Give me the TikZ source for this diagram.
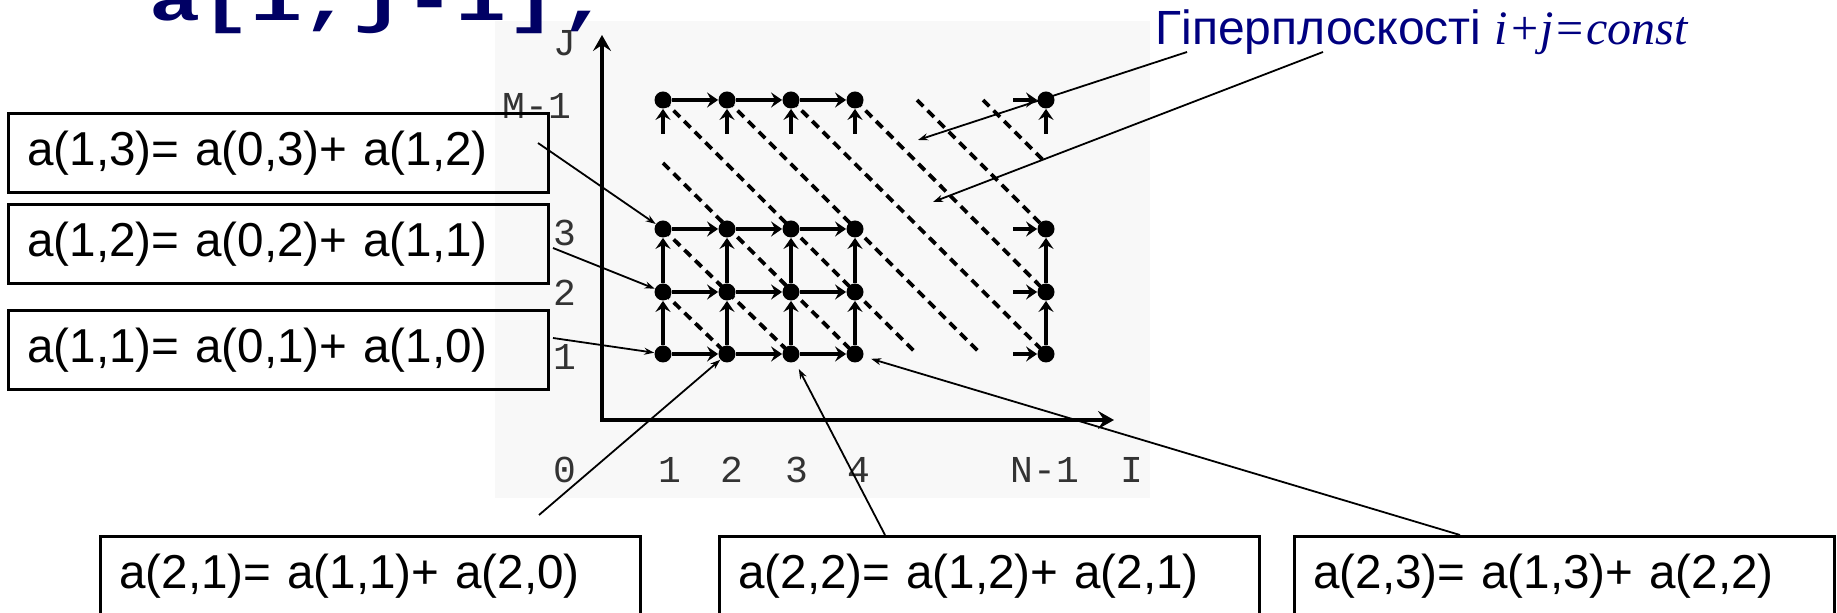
\documentclass[tikz,border=0pt]{standalone}
\usepackage{fontspec}
\setmainfont{Liberation Sans}
\newfontfamily\monofont{Liberation Mono}
\newfontfamily\serifit{Liberation Serif}
\usetikzlibrary{arrows.meta}
\definecolor{navyT}{RGB}{0,0,100}
\definecolor{navyL}{RGB}{0,0,128}
\definecolor{scanbg}{RGB}{248,248,248}
\begin{document}
\begin{tikzpicture}[x=0.5pt,y=-0.5pt,
  eqbox/.style={draw=black, line width=1.3pt, anchor=north west, minimum height=39.5pt,
    text width=251pt, inner xsep=9.5pt, inner ysep=0pt, align=left,
    font=\fontsize{23.8}{27}\selectfont},
  dot/.style={circle, fill=black, minimum size=8.5pt, inner sep=0pt},
  gline/.style={line width=2pt, -{Stealth[length=5.5pt,width=7.5pt,inset=2pt]}},
  hyper/.style={line width=1.9pt, dash pattern=on 4.5pt off 3pt},
  ptr/.style={line width=0.9pt, -{Stealth[length=5pt,width=3.5pt]}},
  axis/.style={line width=2.2pt, {Stealth[length=8pt,width=9pt,inset=3pt]}-{Stealth[length=8pt,width=9pt,inset=3pt]}},
  lbl/.style={font=\monofont\fontsize{19}{22}\selectfont, text=black!80, inner sep=0pt},
]
\useasboundingbox (0,0) rectangle (1837,613);
\clip (0,0) rectangle (1837,613);

% scanned figure background
\fill[scanbg] (495,21) rectangle (1150,498);

% title (cut by the top edge)
\node[font=\monofont\bfseries\fontsize{42.5}{50}\selectfont, text=navyT, anchor=base west, inner sep=0pt] (title) at (149,21) {\scalebox{1}[0.75]{a[i,j-1];}};

% hyperplane label
\node[anchor=base west, inner sep=0pt, text=navyL, font=\fontsize{24}{28}\selectfont] (hyp) at (1155,45) {Гіперплоскості {\serifit\itshape i+j=const}};

% grid coordinates
\foreach \i/\x in {1/663,2/727,3/791,4/855,N/1046} {
  \foreach \j/\y in {1/354,2/292,3/229,M/100} {
    \coordinate (p\i\j) at (\x,\y);
  }
}

% dashed hyperplanes
\coordinate (d3s) at (663,163);
\coordinate (d4e) at (917,354);
\coordinate (d5e) at (981,354);
\coordinate (d8s) at (917,100);
\coordinate (d9s) at (983,100);
\coordinate (d9e) at (1043,160);
\draw[hyper] (p12) -- (p21);
\draw[hyper] (p13) -- (p31);
\draw[hyper] (d3s) -- (p41);
\draw[hyper] (p1M) -- (d4e);
\draw[hyper] (p2M) -- (d5e);
\draw[hyper] (p3M) -- (pN1);
\draw[hyper] (p4M) -- (pN2);
\draw[hyper] (d8s) -- (pN3);
\draw[hyper] (d9s) -- (d9e);

% axes
\coordinate (O) at (602,420);
\coordinate (Jt) at (602,35);
\coordinate (It) at (1114,420);
\draw[axis] (Jt) -- (O) -- (It);

% axis labels
\node[lbl] (lJ) at (565,43) {J};
\node[lbl] (lM) at (537,106) {M-1};
\node[lbl] (lj3) at (565,233) {3};
\node[lbl] (lj2) at (565,293) {2};
\node[lbl] (lj1) at (565,357) {1};
\node[lbl] (li0) at (565,470) {0};
\node[lbl] (li1) at (670,470) {1};
\node[lbl] (li2) at (732,470) {2};
\node[lbl] (li3) at (797,470) {3};
\node[lbl] (li4) at (859,470) {4};
\node[lbl] (liN) at (1045,470) {N-1};
\node[lbl] (lI) at (1132,470) {I};

% grid nodes
\foreach \i in {1,2,3,4,N} {
  \foreach \j in {1,2,3,M} {
    \node[dot] (n\i\j) at (p\i\j) {};
  }
}

% horizontal arcs
\foreach \j in {1,2,3,M} {
  \draw[gline] (n1\j) -- (n2\j);
  \draw[gline] (n2\j) -- (n3\j);
  \draw[gline] (n3\j) -- (n4\j);
}
\foreach \j/\y in {1/354,2/292,3/229,M/100} {
  \coordinate (sN\j) at (1013,\y);
  \draw[gline] (sN\j) -- (nN\j);
}
% vertical arcs
\foreach \i/\x in {1/663,2/727,3/791,4/855,N/1046} {
  \draw[gline] (n\i1) -- (n\i2);
  \draw[gline] (n\i2) -- (n\i3);
  \coordinate (sM\i) at (\x,134);
  \draw[gline] (sM\i) -- (n\i M);
}

% equation boxes
\node[eqbox] (b1) at (7,112) {a(1,3)= a(0,3)+ a(1,2)};
\node[eqbox] (b2) at (7,203) {a(1,2)= a(0,2)+ a(1,1)};
\node[eqbox] (b3) at (7,309) {a(1,1)= a(0,1)+ a(1,0)};
\node[eqbox] (b4) at (99,535) {a(2,1)= a(1,1)+ a(2,0)};
\node[eqbox] (b5) at (718,535) {a(2,2)= a(1,2)+ a(2,1)};
\node[eqbox] (b6) at (1293,535) {a(2,3)= a(1,3)+ a(2,2)};

% pointers
\coordinate (a1) at (538,143);
\coordinate (a2) at (553,248);
\coordinate (a3) at (553,338);
\coordinate (a4) at (539,515);
\coordinate (a5) at (885,535);
\coordinate (a6) at (1460,535);
\draw[ptr] (a1) -- (n13);
\draw[ptr] (a2) -- (n12);
\draw[ptr] (a3) -- (n11);
\draw[ptr] (a4) -- (n21);
\draw[ptr, shorten >=4pt] (a5) -- (n31);
\draw[ptr, shorten >=4pt] (a6) -- (n41);

\coordinate (h1) at (1187,52);
\coordinate (h1t) at (918,140);
\coordinate (h2) at (1323,52);
\coordinate (h2t) at (933,202);
\draw[ptr] (h1) -- (h1t);
\draw[ptr] (h2) -- (h2t);
\end{tikzpicture}
\end{document}
